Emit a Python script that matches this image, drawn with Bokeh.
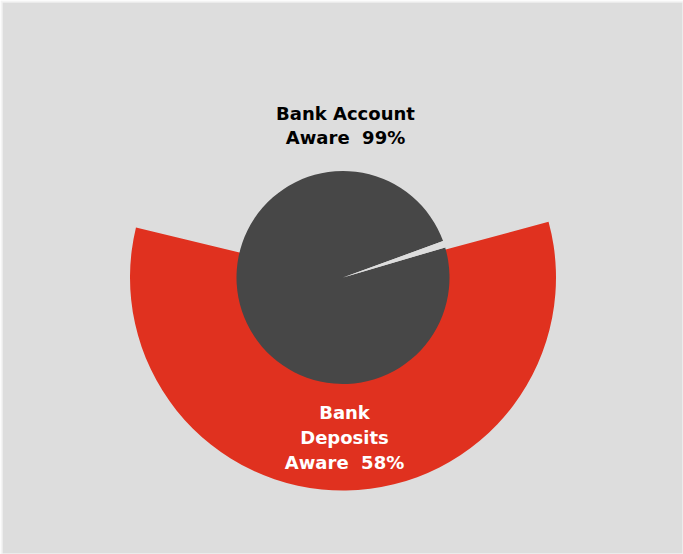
import math
from bokeh.plotting import figure
from bokeh.models import Range1d
from bokeh.core.properties import value
from bokeh.embed import file_html
from bokeh.resources import INLINE

# Data
categories = ["Bank Account Aware", "Bank Deposits Aware"]
percent_values = [99, 58]
label_lines = [["Bank Account", "Aware \u00a099%"], ["Bank", "Deposits", "Aware \u00a058%"]]

BG = "#dddddd"
DARK = "#474747"
RED = "#e0311f"

W, H = 683, 554
p = figure(width=W, height=H, output_backend="svg", toolbar_location=None,
           x_range=Range1d(2, 682), y_range=Range1d(1, 552),
           min_border_left=2, min_border_top=2, min_border_right=1, min_border_bottom=1,
           background_fill_color=BG, border_fill_color="#f4f4f4",
           outline_line_color=None)
p.axis.visible = False
p.grid.visible = False

cx, cy = 342.5, 554 - 277
r_in = 106.5
r_out = 213

# Outer red annular wedge: Bank Deposits Aware 58%, centered near bottom
span_red = percent_values[1] / 100 * 2 * math.pi
mid_red = math.radians(270.8)
p.annular_wedge(x=[cx], y=[cy], inner_radius=r_in - 1, outer_radius=r_out,
                start_angle=[mid_red - span_red / 2], end_angle=[mid_red + span_red / 2],
                fill_color=RED, line_color=None)

# Inner pie: Bank Account Aware 99%
gap_start = math.radians(16.4)
span_dark = percent_values[0] / 100 * 2 * math.pi
dark_start = gap_start + (2 * math.pi - span_dark)
p.wedge(x=[cx], y=[cy], radius=r_in, start_angle=[dark_start],
        end_angle=[dark_start + span_dark], fill_color=DARK, line_color=None)
p.wedge(x=[cx], y=[cy], radius=r_in, start_angle=[gap_start],
        end_angle=[dark_start], fill_color=BG, line_color=None)

# Labels
FONT = value("DejaVu Sans")
top_y = [554 - 113, 554 - 137]
p.text(x=[345] * 2, y=top_y, text=label_lines[0], text_color="#000000",
       text_font=FONT, text_font_style="bold",
       text_font_size="18px", text_align="center", text_baseline="middle")
bot_y = [554 - 412, 554 - 437, 554 - 462]
p.text(x=[344] * 3, y=bot_y, text=label_lines[1], text_color="#ffffff",
       text_font=FONT, text_font_style="bold",
       text_font_size="18px", text_align="center", text_baseline="middle")

open("out.html", "w").write(file_html(p, INLINE))
